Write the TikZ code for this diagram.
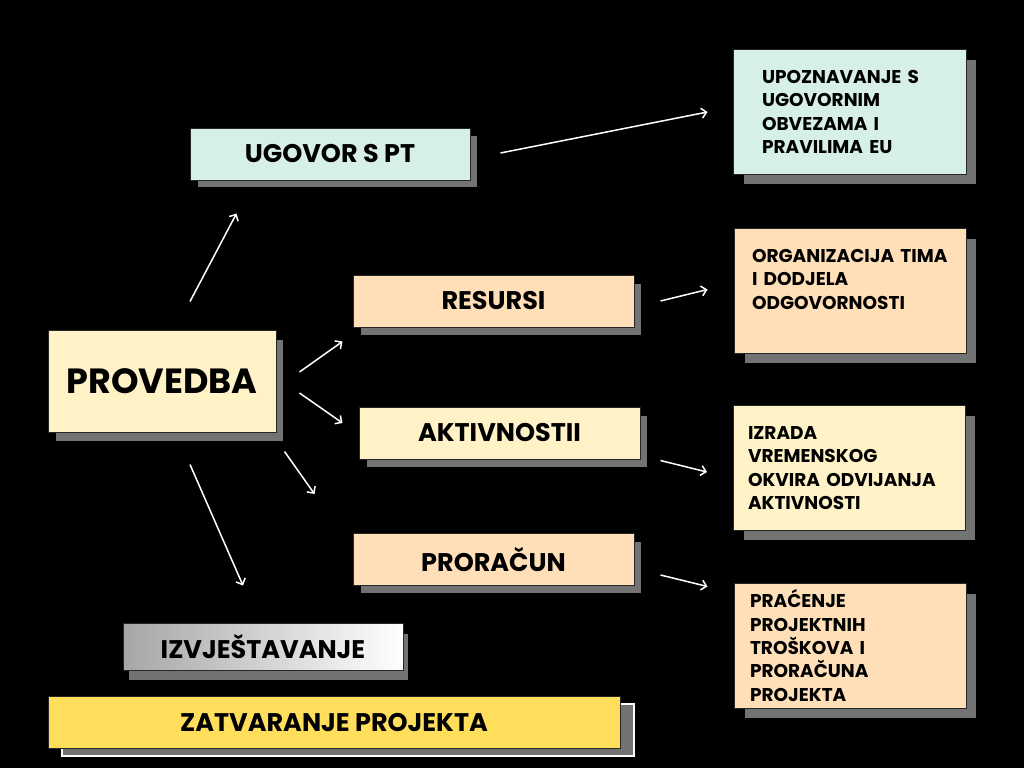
\documentclass[tikz,border=0pt]{standalone}
\usepackage{fontspec}
\setmainfont{Poppins}
\usetikzlibrary{arrows.meta,shadows}
\definecolor{mint}{HTML}{D6EFE9}
\definecolor{peach}{HTML}{FFDFB8}
\definecolor{cream}{HTML}{FFF2C6}
\definecolor{sun}{HTML}{FFDE5C}
\definecolor{shade}{HTML}{737373}
\begin{document}
\begin{tikzpicture}[x=1pt,y=-1pt,>={Straight Barb[length=5pt,width=10pt]},line cap=butt,line join=miter]
	\tikzset{box/.style={draw=black!85,line width=1pt,fill=#1,minimum width=281,minimum height=52,inner sep=0pt,
			font=\fontsize{25.5}{30}\selectfont\bfseries},
		shd/.style 2 args={general shadow={fill=shade,draw=black,line width=1pt,shadow xshift=#1pt,shadow yshift=-#2pt}},
		note/.style={box=#1,shd={10}{10},minimum width=232,minimum height=125,align=left,
			font=\fontsize{18.5}{23.3}\selectfont\bfseries},
		link/.style={->,white,line width=1.5pt}}
	\useasboundingbox (0,0) rectangle (1024,768);
	\fill[black] (0,0) rectangle (1024,768);
	% lijevi stupac
	\node[box=cream,shd={7}{9},minimum width=228,minimum height=102,font=\fontsize{35}{40}\selectfont\bfseries] (provedba) at (162,381) {PROVEDBA};
	\node[box,shd={5}{10},left color=gray!70,right color=white,minimum width=280,minimum height=47] (izvj) at (263,646.5) {IZVJEŠTAVANJE};
	\node[box=sun,general shadow={fill=shade,draw=white,line width=1.2pt,shadow xshift=14pt,shadow yshift=-8pt},minimum width=572] (zatv) at (334,722) {ZATVARANJE PROJEKTA};
	% srednji stupac
	\node[box=mint,shd={7}{7},minimum width=280] (ugovor) at (330,154) {UGOVOR S PT};
	\node[box=peach,shd={7}{8}] (resursi) at (493.5,301) {RESURSI};
	\node[box=cream,shd={7}{8}] (aktiv) at (499.5,433) {AKTIVNOSTII};
	\node[box=peach,shd={7}{8}] (proracun) at (493.5,559.5) {PRORAČUN};
	% desni stupac
	\node[note=mint,inner xsep=29,text width=175] (upoz) at (849.5,112) {UPOZNAVANJE~S\\UGOVORNIM\\OBVEZAMA~I\\PRAVILIMA~EU};
	\node[note=peach,inner xsep=18,text width=196,text depth=69pt] (org) at (850,290.5) {ORGANIZACIJA~TIMA\\I~DODJELA\\ODGOVORNOSTI};
	\node[note=cream,inner xsep=14,text width=203] (izrada) at (849.5,468) {IZRADA\\VREMENSKOG\\OKVIRA~ODVIJANJA\\AKTIVNOSTI};
	\node[note=peach,inner xsep=16,text width=200] (pracenje) at (850,645.5) {PRAĆENJE\\PROJEKTNIH\\TROŠKOVA~I\\PRORAČUNA\\PROJEKTA};
	%--------- strelice
	\draw[link] ([shift={(28,-28)}]provedba.north) -- ([shift={(47,33)}]ugovor.south west);
	\draw[link] ([shift={(23,-9)}]provedba.east) -- ([shift={(-10,14)}]resursi.south west);
	\draw[link] ([shift={(23,12)}]provedba.east) -- ([shift={(-16,-10)}]aktiv.west);
	\draw[link] ([shift={(8,19)}]provedba.south east) -- ([shift={(-38,-39)}]proracun.north west);
	\draw[link] ([shift={(28,32)}]provedba.south) -- ([shift={(-20,-37)}]izvj.north);
	\draw[link] ([shift={(30,-1)}]ugovor.east) -- ([shift={(-25,0)}]upoz.west);
	\draw[link] ([shift={(26,0)}]resursi.east) -- ([shift={(-26,-1)}]org.west);
	\draw[link] ([shift={(20,1)}]aktiv.south east) -- ([shift={(-26,4)}]izrada.west);
	\draw[link] ([shift={(26,15.5)}]proracun.east) -- ([shift={(-26,4)}]pracenje.north west);
\end{tikzpicture}
\end{document}
